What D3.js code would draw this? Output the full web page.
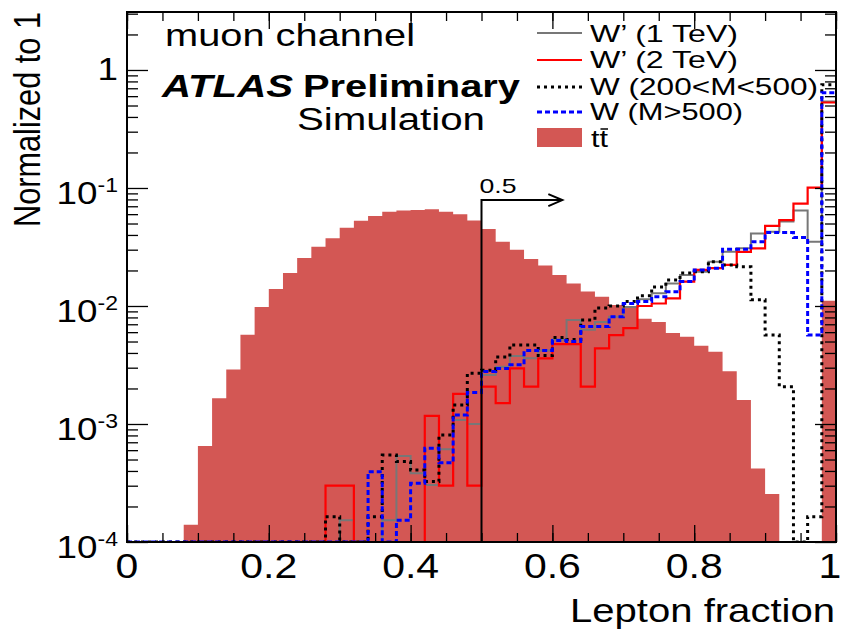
<!DOCTYPE html>
<meta charset="utf-8">
<script src="https://d3js.org/d3.v7.min.js"></script>
<style>
  body { margin: 0; background: #fff; }
  text { font-family: "Liberation Sans", Arial, sans-serif; fill: #000; }
</style>
<div id="chart"></div>
<script>
// lepton fraction, 50 bins of 0.02, each sample normalised to 1
var binWidth = 0.02;
var ttbar = [0, 0, 0, 0, 1.4e-4, 6.5e-4, 1.65e-3, 2.9e-3, 5.7e-3, 9.8e-3,
  0.0139, 0.019, 0.0255, 0.0318, 0.0375, 0.046, 0.0528, 0.058, 0.063, 0.0645,
  0.065, 0.066, 0.063, 0.060, 0.053, 0.045, 0.035, 0.030, 0.025, 0.022,
  0.0183, 0.0155, 0.0133, 0.012, 0.0102, 0.0097, 0.0078, 0.0073, 0.0059, 0.0055,
  0.0046, 0.0041, 0.0028, 0.0016, 4.2e-4, 2.55e-4, 0, 0, 0, 0.0111];
var wp1TeV = [0, 0, 0, 0, 0, 0, 0, 0, 0, 0,
  0, 0, 0, 0, 0, 1.53e-4, 0, 0, 1.53e-4, 5.36e-4,
  3.82e-4, 3.04e-4, 6.1e-4, 1.08e-3, 1.0e-3, 2.6e-3, 3.06e-3, 3.77e-3, 3.6e-3, 4.2e-3,
  5.2e-3, 7.6e-3, 6.3e-3, 7.3e-3, 8.1e-3, 9.8e-3, 0.0114, 0.0128, 0.0155, 0.0183,
  0.0195, 0.0237, 0.0288, 0.0308, 0.0411, 0.0426, 0.052, 0.0645, 0.035, 0.54];
var wp2TeV = [0, 0, 0, 0, 0, 0, 0, 0, 0, 0,
  0, 0, 0, 0, 3.0e-4, 3.0e-4, 0, 0, 0, 0,
  0, 1.17e-3, 3.0e-4, 1.8e-3, 3.0e-4, 2.07e-3, 1.5e-3, 2.96e-3, 2.07e-3, 3.6e-3,
  4.76e-3, 4.76e-3, 2.07e-3, 4.37e-3, 5.67e-3, 6.5e-3, 0.0100, 0.0105, 0.0116, 0.0161,
  0.0202, 0.0209, 0.0223, 0.0288, 0.0308, 0.0478, 0.0535, 0.0738, 0.1006, 0.53];
var wLowMass = [0, 0, 0, 0, 0, 0, 0, 0, 0, 0,
  0, 0, 0, 0, 1.64e-4, 0, 0, 1.64e-4, 5.45e-4, 4.8e-4,
  4.07e-4, 3.25e-4, 8.07e-4, 1.45e-3, 2.69e-3, 2.86e-3, 3.7e-3, 4.68e-3, 4.68e-3, 3.8e-3,
  5.4e-3, 5.2e-3, 7.6e-3, 9.6e-3, 0.0100, 0.0109, 0.0122, 0.0145, 0.0166, 0.019,
  0.0195, 0.0237, 0.0223, 0.0215, 0.0113, 5.67e-3, 2.07e-3, 0, 1.64e-4, 0.75];
var wHighMass = [0, 0, 0, 0, 0, 0, 0, 0, 0, 0,
  0, 0, 0, 0, 0, 0, 0, 3.94e-4, 0, 1.53e-4,
  3.14e-4, 6.22e-4, 4.7e-4, 1.19e-3, 1.85e-3, 2.78e-3, 2.96e-3, 3.17e-3, 4.2e-3, 4.2e-3,
  5.1e-3, 5.0e-3, 6.7e-3, 6.7e-3, 8.1e-3, 0.0105, 0.0109, 0.0120, 0.0132, 0.0161,
  0.0202, 0.0209, 0.0302, 0.0302, 0.035, 0.042, 0.042, 0.038, 5.67e-3, 0.64];

var xMajor = [0, 0.2, 0.4, 0.6, 0.8, 1];
var xLabels = ["0", "0.2", "0.4", "0.6", "0.8", "1"];
var yMajor = [1e-4, 1e-3, 1e-2, 1e-1, 1];
var yExponents = ["-4", "-3", "-2", "-1", ""];
var legendNames = ["W\u2019 (1 TeV)", "W\u2019 (2 TeV)", "W (200<M<500)", "W (M>500)"];

var cutValue = 0.5, arrowLevel = 0.079, arrowTo = 0.614;

var W = 843, H = 635;
var margin = {top: 12, right: 7, bottom: 93, left: 127};
var yMin = 1e-4, yMax = 3.1;

var svg = d3.select("#chart").append("svg")
  .attr("width", W).attr("height", H);

var x = d3.scaleLinear().domain([0, 1]).range([margin.left, W - margin.right]);
var y = d3.scaleLog().domain([yMin, yMax]).range([H - margin.bottom, margin.top]);

svg.append("clipPath").attr("id", "plot")
  .append("rect")
    .attr("x", x(0)).attr("y", y(yMax))
    .attr("width", x(1) - x(0)).attr("height", y(yMin) - y(yMax));

function steps(vals) {
  var pts = [];
  vals.forEach(function(v, i) {
    pts.push([i * binWidth, v]);
    pts.push([(i + 1) * binWidth, v]);
  });
  return pts;
}
function yc(v) { return y(Math.max(v, yMin)); }

var plot = svg.append("g").attr("clip-path", "url(#plot)");

// ttbar filled
var area = d3.area()
  .x(function(d) { return x(d[0]); })
  .y0(y(yMin))
  .y1(function(d) { return yc(d[1]); });
plot.append("path")
  .attr("d", area(steps(ttbar)))
  .attr("fill", "#d35754");

var line = d3.line()
  .x(function(d) { return x(d[0]); })
  .y(function(d) { return yc(d[1]); });

var series = [
  {vals: wp1TeV, color: "#777777", width: 2, dash: null},
  {vals: wp2TeV, color: "#ff0000", width: 2.2, dash: null},
  {vals: wLowMass, color: "#000000", width: 3, dash: "3,4"},
  {vals: wHighMass, color: "#0000ff", width: 3, dash: "5,3"}
];
series.forEach(function(s) {
  plot.append("path")
    .attr("d", line(steps(s.vals)))
    .attr("fill", "none")
    .attr("stroke", s.color)
    .attr("stroke-width", s.width)
    .attr("stroke-dasharray", s.dash);
});

// cut at 0.5 with arrow
var ax = x(cutValue), ay = y(arrowLevel), ae = x(arrowTo);
svg.append("path")
  .attr("d", "M" + ax + "," + y(yMin) + "V" + ay + "H" + ae +
    "M" + (ae - 14) + "," + (ay - 6) + "L" + ae + "," + ay + "L" + (ae - 14) + "," + (ay + 6))
  .attr("fill", "none").attr("stroke", "#000").attr("stroke-width", 2);
svg.append("text").attr("x", ax - 2).attr("y", ay - 7)
  .attr("font-size", 21).attr("textLength", 37).attr("lengthAdjust", "spacingAndGlyphs")
  .text("0.5");

// ticks on all four sides
function ticks(axis, tx, ty) {
  var g = svg.append("g").attr("transform", "translate(" + tx + "," + ty + ")").call(axis);
  g.select(".domain").remove();
  g.selectAll("line").attr("stroke", "#000").attr("stroke-width", 1.3);
  g.selectAll("text").remove();
}
var xMinor = x.ticks(20);
var yMinor = [];
yMajor.forEach(function(d) { [2, 3, 4, 5, 6, 7, 8, 9].forEach(function(m) { if (d * m < yMax) yMinor.push(d * m); }); });

ticks(d3.axisBottom(x).tickValues(xMajor).tickSize(-17), 0, y(yMin));
ticks(d3.axisBottom(x).tickValues(xMinor).tickSize(-9), 0, y(yMin));
ticks(d3.axisTop(x).tickValues(xMajor).tickSize(-17), 0, y(yMax));
ticks(d3.axisTop(x).tickValues(xMinor).tickSize(-9), 0, y(yMax));
ticks(d3.axisLeft(y).tickValues(yMajor).tickSize(-21), x(0), 0);
ticks(d3.axisLeft(y).tickValues(yMinor).tickSize(-11), x(0), 0);
ticks(d3.axisRight(y).tickValues(yMajor).tickSize(-21), x(1), 0);
ticks(d3.axisRight(y).tickValues(yMinor).tickSize(-11), x(1), 0);

svg.append("rect")
  .attr("x", x(0)).attr("y", y(yMax))
  .attr("width", x(1) - x(0)).attr("height", y(yMin) - y(yMax))
  .attr("fill", "none").attr("stroke", "#000").attr("stroke-width", 2);

// tick labels (the last one pulled in a little so it stays on the page)
svg.selectAll(".xlab").data(xMajor).enter().append("text")
  .attr("transform", function(d) { return "translate(" + Math.min(x(d), W - 13) + "," + (y(yMin) + 36) + ") scale(1.17,1)"; })
  .attr("text-anchor", "middle").attr("font-size", 35)
  .text(function(d, i) { return xLabels[i]; });

var yl = svg.selectAll(".ylab").data(yMajor).enter().append("text")
  .attr("transform", function(d, i) {
    return "translate(" + (x(0) - 9) + "," + (y(d) + (yExponents[i] ? 16 : 10)) + ") scale(1.15,1)";
  })
  .attr("text-anchor", "end").attr("font-size", 32);
yl.append("tspan").text(function(d, i) { return yExponents[i] ? "10" : "1"; });
yl.append("tspan").attr("dy", -12).attr("font-size", 20)
  .text(function(d, i) { return yExponents[i]; });

// axis titles
svg.append("text").attr("x", 570).attr("y", 622)
  .attr("font-size", 33).attr("textLength", 265).attr("lengthAdjust", "spacingAndGlyphs")
  .text("Lepton fraction");
svg.append("text").attr("transform", "translate(40,227) scale(1.2,1) rotate(-90)")
  .attr("font-size", 31).attr("textLength", 215).attr("lengthAdjust", "spacingAndGlyphs")
  .text("Normalized to 1");

// labels in the plot
function label(s, lx, ly, size, len, weight, style) {
  return svg.append("text").attr("x", lx).attr("y", ly)
    .attr("font-size", size).attr("font-weight", weight || "normal").attr("font-style", style || "normal")
    .attr("textLength", len).attr("lengthAdjust", "spacingAndGlyphs").text(s);
}
label("muon channel", 165, 46, 32, 250);
label("ATLAS", 162, 97, 31, 131, "bold", "italic");
label("Preliminary", 303, 97, 31, 217, "bold");
label("Simulation", 297, 130, 31, 188);

// legend
var legRows = [33, 60, 87, 112], legText = [42, 68, 95, 120], legLens = [148, 148, 228, 153];
series.forEach(function(s, i) {
  svg.append("line").attr("x1", 537).attr("x2", 582).attr("y1", legRows[i]).attr("y2", legRows[i])
    .attr("stroke", s.color).attr("stroke-width", s.width).attr("stroke-dasharray", s.dash);
  label(legendNames[i], 590, legText[i], 24, legLens[i]);
});
svg.append("rect").attr("x", 537).attr("y", 128).attr("width", 45).attr("height", 19)
  .attr("fill", "#d35754");
var tt = svg.append("text").attr("x", 591).attr("y", 147).attr("font-size", 24)
  .attr("textLength", 17).attr("lengthAdjust", "spacingAndGlyphs").text("tt");
// bar over the second t
var ext = tt.node().getExtentOfChar(1);
svg.append("line")
  .attr("x1", ext.x + 1).attr("x2", ext.x + ext.width)
  .attr("y1", ext.y + 4).attr("y2", ext.y + 4)
  .attr("stroke", "#000").attr("stroke-width", 1.5);
</script>
